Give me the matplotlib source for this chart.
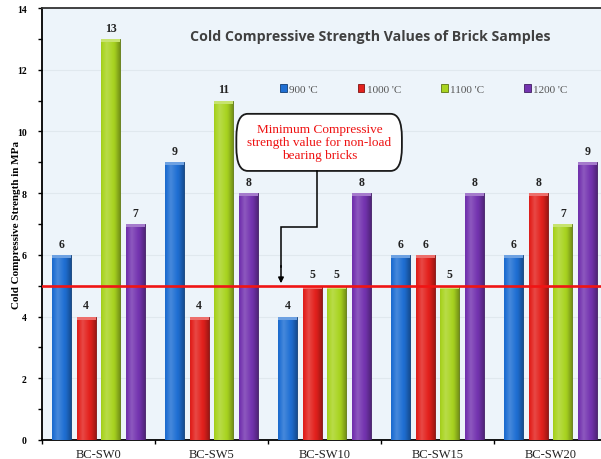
import numpy as np
import matplotlib
matplotlib.use("Agg")
import matplotlib.pyplot as plt
from matplotlib.patches import FancyBboxPatch
from matplotlib.colors import to_rgb

categories = ["BC-SW0", "BC-SW5", "BC-SW10", "BC-SW15", "BC-SW20"]
series_labels = ["900 'C", "1000 'C", "1100 'C", "1200 'C"]
s900 = [6, 9, 4, 6, 6]
s1000 = [4, 4, 5, 6, 8]
s1100 = [13, 11, 5, 5, 7]
s1200 = [7, 8, 8, 8, 9]
limit_value = 5
y_ticks = [0, 2, 4, 6, 8, 10, 12, 14]

series = [s900, s1000, s1100, s1200]
colors = ["#1F6FD3", "#E3211D", "#A9D421", "#7434B0"]

SERIF = "Liberation Serif"

fig = plt.figure(figsize=(6.01, 4.60), dpi=100)
W, H = 601, 460
ax = fig.add_axes([42 / W, (H - 441) / H, (607 - 42) / W, (441 - 9) / H])
ax.set_facecolor("#EDF4FA")

pitch = 0.217
bw = 0.168
x = np.arange(len(categories))


def shade(color, f):
    r, g, b = to_rgb(color)
    if f >= 0:
        return (r + (1 - r) * f, g + (1 - g) * f, b + (1 - b) * f)
    return (r * (1 + f), g * (1 + f), b * (1 + f))


for i, (vals, col) in enumerate(zip(series, colors)):
    xs = x + (i - 1.5) * pitch
    bars = ax.bar(xs, vals, width=bw, color=col, edgecolor=shade(col, -0.45),
                  linewidth=0.6, zorder=3, label=series_labels[i])
    # horizontal shading across each bar
    t = np.linspace(0, 1, 64)
    prof = np.interp(t, [0, 0.3, 0.75, 1], [-0.05, 0.18, -0.05, -0.3])
    grad = np.array([[shade(col, f) for f in prof]])
    for b, v in zip(bars, vals):
        x0 = b.get_x()
        im = ax.imshow(grad, extent=[x0, x0 + bw, 0, v], aspect="auto",
                       zorder=3.1, interpolation="bilinear")
        im.set_clip_path(b)
        # lighter cap on top
        ax.bar(b.get_x() + bw / 2, 0.1, bottom=v - 0.1, width=bw,
               color=shade(col, 0.35), linewidth=0, zorder=3.2)
        ax.text(b.get_x() + bw / 2, v + 0.17, f"{v:g}", ha="center", va="bottom",
                fontsize=8.5, fontweight="bold", family=SERIF, color="#222222",
                zorder=5)

ax.set_xlim(-0.5, len(categories) - 0.5)
ax.set_ylim(0, 14)

# minimum strength reference line
ax.axhline(limit_value, color="#F01414", lw=1.9, zorder=4)

# axes styling
ax.spines["right"].set_visible(False)
for s in ["left", "bottom", "top"]:
    ax.spines[s].set_linewidth(1.3)
ax.spines["top"].set_color("#333333")
ax.set_yticks(y_ticks)
ax.set_yticks(np.arange(1, 14, 2), minor=True)
ax.yaxis.grid(True, color="#E0E8EE", lw=0.8, zorder=0)
ax.set_axisbelow(True)
ax.tick_params(axis="y", which="both", direction="out", length=3, width=1, pad=8)
for lab in ax.get_yticklabels():
    lab.set_family(SERIF)
    lab.set_fontweight("bold")
    lab.set_fontsize(7)

ax.set_xticks(x)
ax.set_xticklabels(categories, family=SERIF, fontsize=9, color="#222222")
ax.set_xticks(np.arange(-0.5, len(categories) + 0.5, 1), minor=True)
ax.tick_params(axis="x", which="major", length=0, pad=6)
ax.tick_params(axis="x", which="minor", direction="out", length=3, width=1)

ax.set_ylabel("Cold Compressive Strength in MPa", family=SERIF, fontweight="bold",
              fontsize=8)
ax.yaxis.set_label_coords(-21 / 565, 0.5)

fig.text(370 / W, 1 - 37 / H, "Cold Compressive Strength Values of Brick Samples",
         ha="center", va="center", fontsize=10.2, fontweight="bold",
         family="Open Sans", color="#404040")

leg = ax.legend(loc="center left", bbox_to_anchor=(238 / 565, 0.812), ncol=4,
                frameon=False, prop={"family": SERIF, "size": 8},
                handlelength=0.6, handleheight=0.6, handletextpad=0.2,
                columnspacing=3.6, borderpad=0, borderaxespad=0)
for t in leg.get_texts():
    t.set_color("#555555")

# callout box with elbow arrow to the reference line
box = FancyBboxPatch((1.22, 8.72), 1.465, 1.85,
                     boxstyle="round,pad=0,rounding_size=0.1",
                     mutation_aspect=1 / 0.13,
                     fc="white", ec="#1a1a1a", lw=1.3, zorder=6)
ax.add_patch(box)
ax.text(1.955, 9.66, "Minimum Compressive\nstrength value for non-load\nbearing bricks",
        ha="center", va="center", fontsize=9.5, family=SERIF, color="#EE1111",
        linespacing=1.15, zorder=7)
ax.plot([1.93, 1.93, 1.615, 1.615], [8.72, 6.89, 6.89, 5.6], color="black",
        lw=1.1, zorder=6, solid_joinstyle="miter")
ax.annotate("", xy=(1.615, 5.08), xytext=(1.615, 5.65),
            arrowprops=dict(arrowstyle="-|>", color="black", lw=1.1,
                            mutation_scale=8, shrinkA=0, shrinkB=0), zorder=6)

fig.savefig("out.png", dpi=100, facecolor="white")
